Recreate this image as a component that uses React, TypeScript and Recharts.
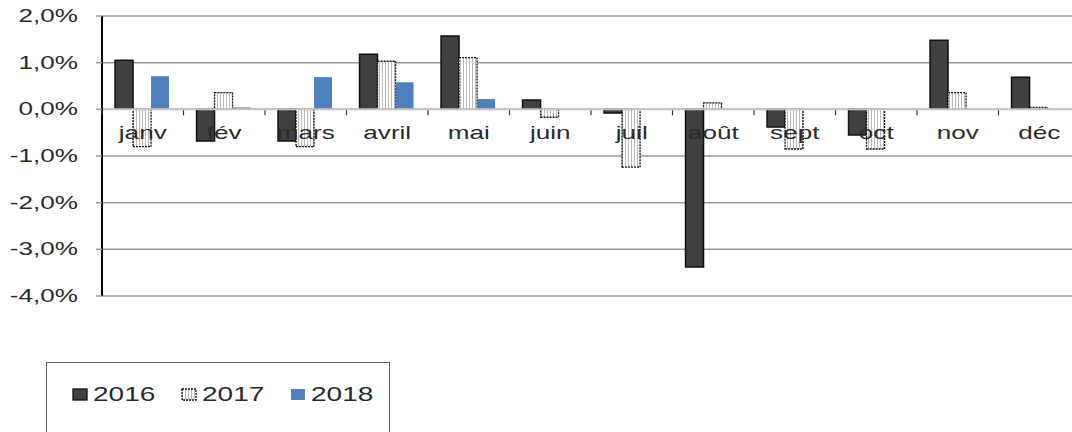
import { BarChart, Bar, XAxis, YAxis, CartesianGrid, ReferenceLine } from 'recharts'

const months = ['janv', 'fév', 'mars', 'avril', 'mai', 'juin', 'juil', 'août', 'sept', 'oct', 'nov', 'déc']
const v2016 = [1.05, -0.68, -0.68, 1.18, 1.57, 0.2, -0.08, -3.38, -0.38, -0.55, 1.48, 0.69]
const v2017 = [-0.8, 0.36, -0.8, 1.03, 1.11, -0.17, -1.24, 0.14, -0.85, -0.85, 0.36, 0.04]
const v2018 = [0.71, 0.04, 0.69, 0.58, 0.22, null, null, null, null, null, null, null]
const yTicks = [-4, -3, -2, -1, 0, 1, 2]

const data = months.map((m, i) => ({ name: m, a: v2016[i], b: v2017[i], c: v2018[i] }))

const W = 1080
const H = 432
const PLOT_LEFT = 102
const PLOT_TOP = 16
const PLOT_H = 280
const BAND = (W - PLOT_LEFT) / months.length
const Y_MIN = -4
const Y_MAX = 2
const ZERO_Y = PLOT_TOP + (PLOT_H * Y_MAX) / (Y_MAX - Y_MIN)
const STRETCH = 1.45
const TEXT = '#2a2a2a'
const FONT = '"Liberation Sans", Arial, sans-serif'

const fmt = (v: number) => v.toFixed(1).replace('.', ',') + '%'

function MonthTick(props: any) {
  const { x, payload } = props
  return (
    <g>
      <line x1={x - BAND / 2} x2={x - BAND / 2} y1={ZERO_Y + 1} y2={ZERO_Y + 6} stroke="#333" strokeWidth={1.2} />
      <text
        transform={`translate(${x},${ZERO_Y + 30}) scale(${STRETCH},1)`}
        textAnchor="middle"
        fontSize={18}
        fontFamily={FONT}
        fill={TEXT}
      >
        {payload.value}
      </text>
    </g>
  )
}

function ValueTick(props: any) {
  const { x, y, payload } = props
  return (
    <text
      transform={`translate(${x},${y + 6}) scale(${STRETCH},1)`}
      textAnchor="end"
      fontSize={18}
      fontFamily={FONT}
      fill={TEXT}
    >
      {fmt(payload.value)}
    </text>
  )
}

function Swatch({ kind }: { kind: string }) {
  const fill = kind === 'a' ? '#404040' : kind === 'b' ? 'url(#stripes)' : '#4f81bd'
  return (
    <svg width={16} height={13} style={{ display: 'block' }}>
      <rect
        x={1}
        y={1}
        width={14}
        height={11}
        fill={fill}
        stroke={kind === 'c' ? 'none' : '#111'}
        strokeWidth={1.3}
        strokeDasharray={kind === 'b' ? '2 1' : undefined}
      />
    </svg>
  )
}

const legendItems = [
  { key: 'a', label: '2016' },
  { key: 'b', label: '2017' },
  { key: 'c', label: '2018' },
]

export default function App() {
  return (
    <div style={{ position: 'absolute', left: 0, top: 0, width: 1072, height: 432, overflow: 'hidden', background: '#fff' }}>
      <svg width={0} height={0} style={{ position: 'absolute' }}>
        <defs>
          <pattern id="stripes" width={3} height={10} patternUnits="userSpaceOnUse">
            <rect width={3} height={10} fill="#fff" />
            <line x1={1.5} x2={1.5} y1={0} y2={10} stroke="#bbb" strokeWidth={1} />
          </pattern>
        </defs>
      </svg>
      <BarChart
        width={W}
        height={H}
        data={data}
        margin={{ top: PLOT_TOP, right: 0, bottom: H - PLOT_TOP - PLOT_H - 30, left: 0 }}
        barCategoryGap="16%"
        barGap={0}
      >
        <CartesianGrid vertical={false} stroke="#999" strokeWidth={1.5} />
        <XAxis dataKey="name" axisLine={false} tickLine={false} tick={<MonthTick />} interval={0} height={30} />
        <YAxis
          domain={[Y_MIN, Y_MAX]}
          ticks={yTicks}
          width={PLOT_LEFT}
          axisLine={{ stroke: '#000', strokeWidth: 2 }}
          tickLine={{ stroke: '#999', strokeWidth: 1.5 }}
          tickSize={6}
          tickMargin={18}
          tick={<ValueTick />}
          interval={0}
        />
        <ReferenceLine y={0} stroke="#c4c4c4" strokeWidth={2} />
        <Bar dataKey="a" fill="#404040" stroke="#111" strokeWidth={1.5} isAnimationActive={false} />
        <Bar dataKey="b" fill="url(#stripes)" stroke="#111" strokeWidth={1.3} strokeDasharray="2 1" isAnimationActive={false} />
        <Bar dataKey="c" fill="#4f81bd" isAnimationActive={false} />
      </BarChart>
      <div
        style={{
          position: 'absolute',
          left: 46,
          top: 362,
          width: 344,
          height: 90,
          border: '1.5px solid #666',
          boxSizing: 'border-box',
        }}
      >
        {legendItems.map((it, i) => (
          <div
            key={it.key}
            style={{ position: 'absolute', left: 25 + i * 109, top: 20, display: 'flex', alignItems: 'center' }}
          >
            <Swatch kind={it.key} />
            <span
              style={{
                display: 'inline-block',
                marginLeft: 5,
                fontFamily: FONT,
                fontSize: 20,
                color: TEXT,
                transform: 'scaleX(1.4)',
                transformOrigin: 'left center',
              }}
            >
              {it.label}
            </span>
          </div>
        ))}
      </div>
    </div>
  )
}
